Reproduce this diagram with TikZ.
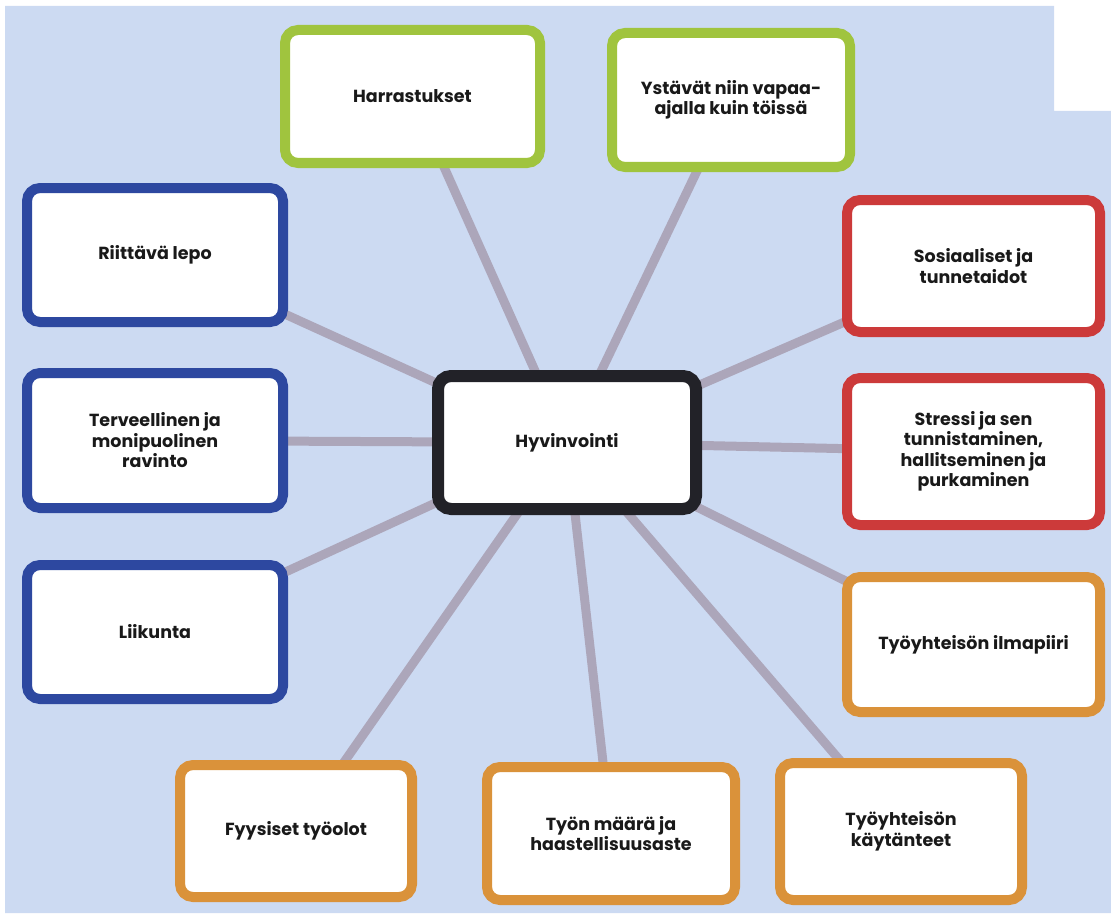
\documentclass[tikz,border=0pt]{standalone}
\usepackage{fontspec}
\setmainfont{Poppins}
\usepackage{tikz}
\usetikzlibrary{backgrounds}
\definecolor{bgblue}{RGB}{204,218,242}
\definecolor{boxgreen}{RGB}{160,196,62}
\definecolor{boxblue}{RGB}{45,72,160}
\definecolor{boxred}{RGB}{204,58,58}
\definecolor{boxorange}{RGB}{218,146,58}
\definecolor{boxdark}{RGB}{34,34,40}
\definecolor{spokegray}{RGB}{172,166,186}
\tikzset{
  topic/.style={rectangle, fill=white, rounded corners=13pt, line width=10pt, align=center, text=black!90, font=\bfseries\fontsize{17.5}{20.5}\selectfont},
  leisure/.style={topic, draw=boxgreen},
  health/.style={topic, draw=boxblue},
  social/.style={topic, draw=boxred},
  work/.style={topic, draw=boxorange},
  spoke/.style={draw=spokegray, line width=9pt}
}

\begin{document}
\begin{tikzpicture}[x=1pt, y=-1pt]
\useasboundingbox (0,0) rectangle (1111,923);
\begin{scope}[on background layer]
\fill[bgblue] (5,6) -- (1054,6) -- (1054,111) -- (1111,111) -- (1111,913) -- (5,913) -- cycle;
\end{scope}

% centre
\node at (567,442.5)[topic, draw=boxdark, line width=12pt, minimum width=258pt, minimum height=133pt] (wellbeing) {Hyvinvointi};

% top row
\node at (412.5,96.5)[leisure, minimum width=255pt, minimum height=133pt] (hobby) {Harrastukset};
\node at (731,100)[leisure, minimum width=238pt, minimum height=134pt] (friends) {Ystävät niin vapaa-\\ajalla kuin töissä};

% left column
\node at (155,255)[health, minimum width=256pt, minimum height=134pt] (rest) {Riittävä lepo};
\node at (155,440.5)[health, minimum width=256pt, minimum height=135pt] (food) {Terveellinen ja\\monipuolinen\\ravinto};
\node at (155,632)[health, minimum width=256pt, minimum height=134pt] (sport) {Liikunta};

% right column
\node at (973.5,266)[social, minimum width=253pt, minimum height=132pt] (skills) {Sosiaaliset ja\\tunnetaidot};
\node at (973.5,451.5)[social, minimum width=253pt, minimum height=147pt] (stress) {Stressi ja sen\\tunnistaminen,\\hallitseminen ja\\purkaminen};
\node at (973.5,644.5)[work, minimum width=253pt, minimum height=135pt] (climate) {Työyhteisön ilmapiiri};

% bottom row
\node at (296,831)[work, minimum width=232pt, minimum height=132pt] (physical) {Fyysiset työolot};
\node at (611,833.5)[work, minimum width=248pt, minimum height=133pt] (workload) {Työn määrä ja\\haastellisuusaste};
\node at (901,831.5)[work, minimum width=242pt, minimum height=137pt] (practices) {Työyhteisön\\käytänteet};

\begin{scope}[on background layer]
\foreach \n in {hobby,friends,rest,food,sport,skills,stress,climate,physical,workload,practices}
	\draw[spoke] (wellbeing.center) -- (\n.center);
\end{scope}
\end{tikzpicture}
\end{document}
